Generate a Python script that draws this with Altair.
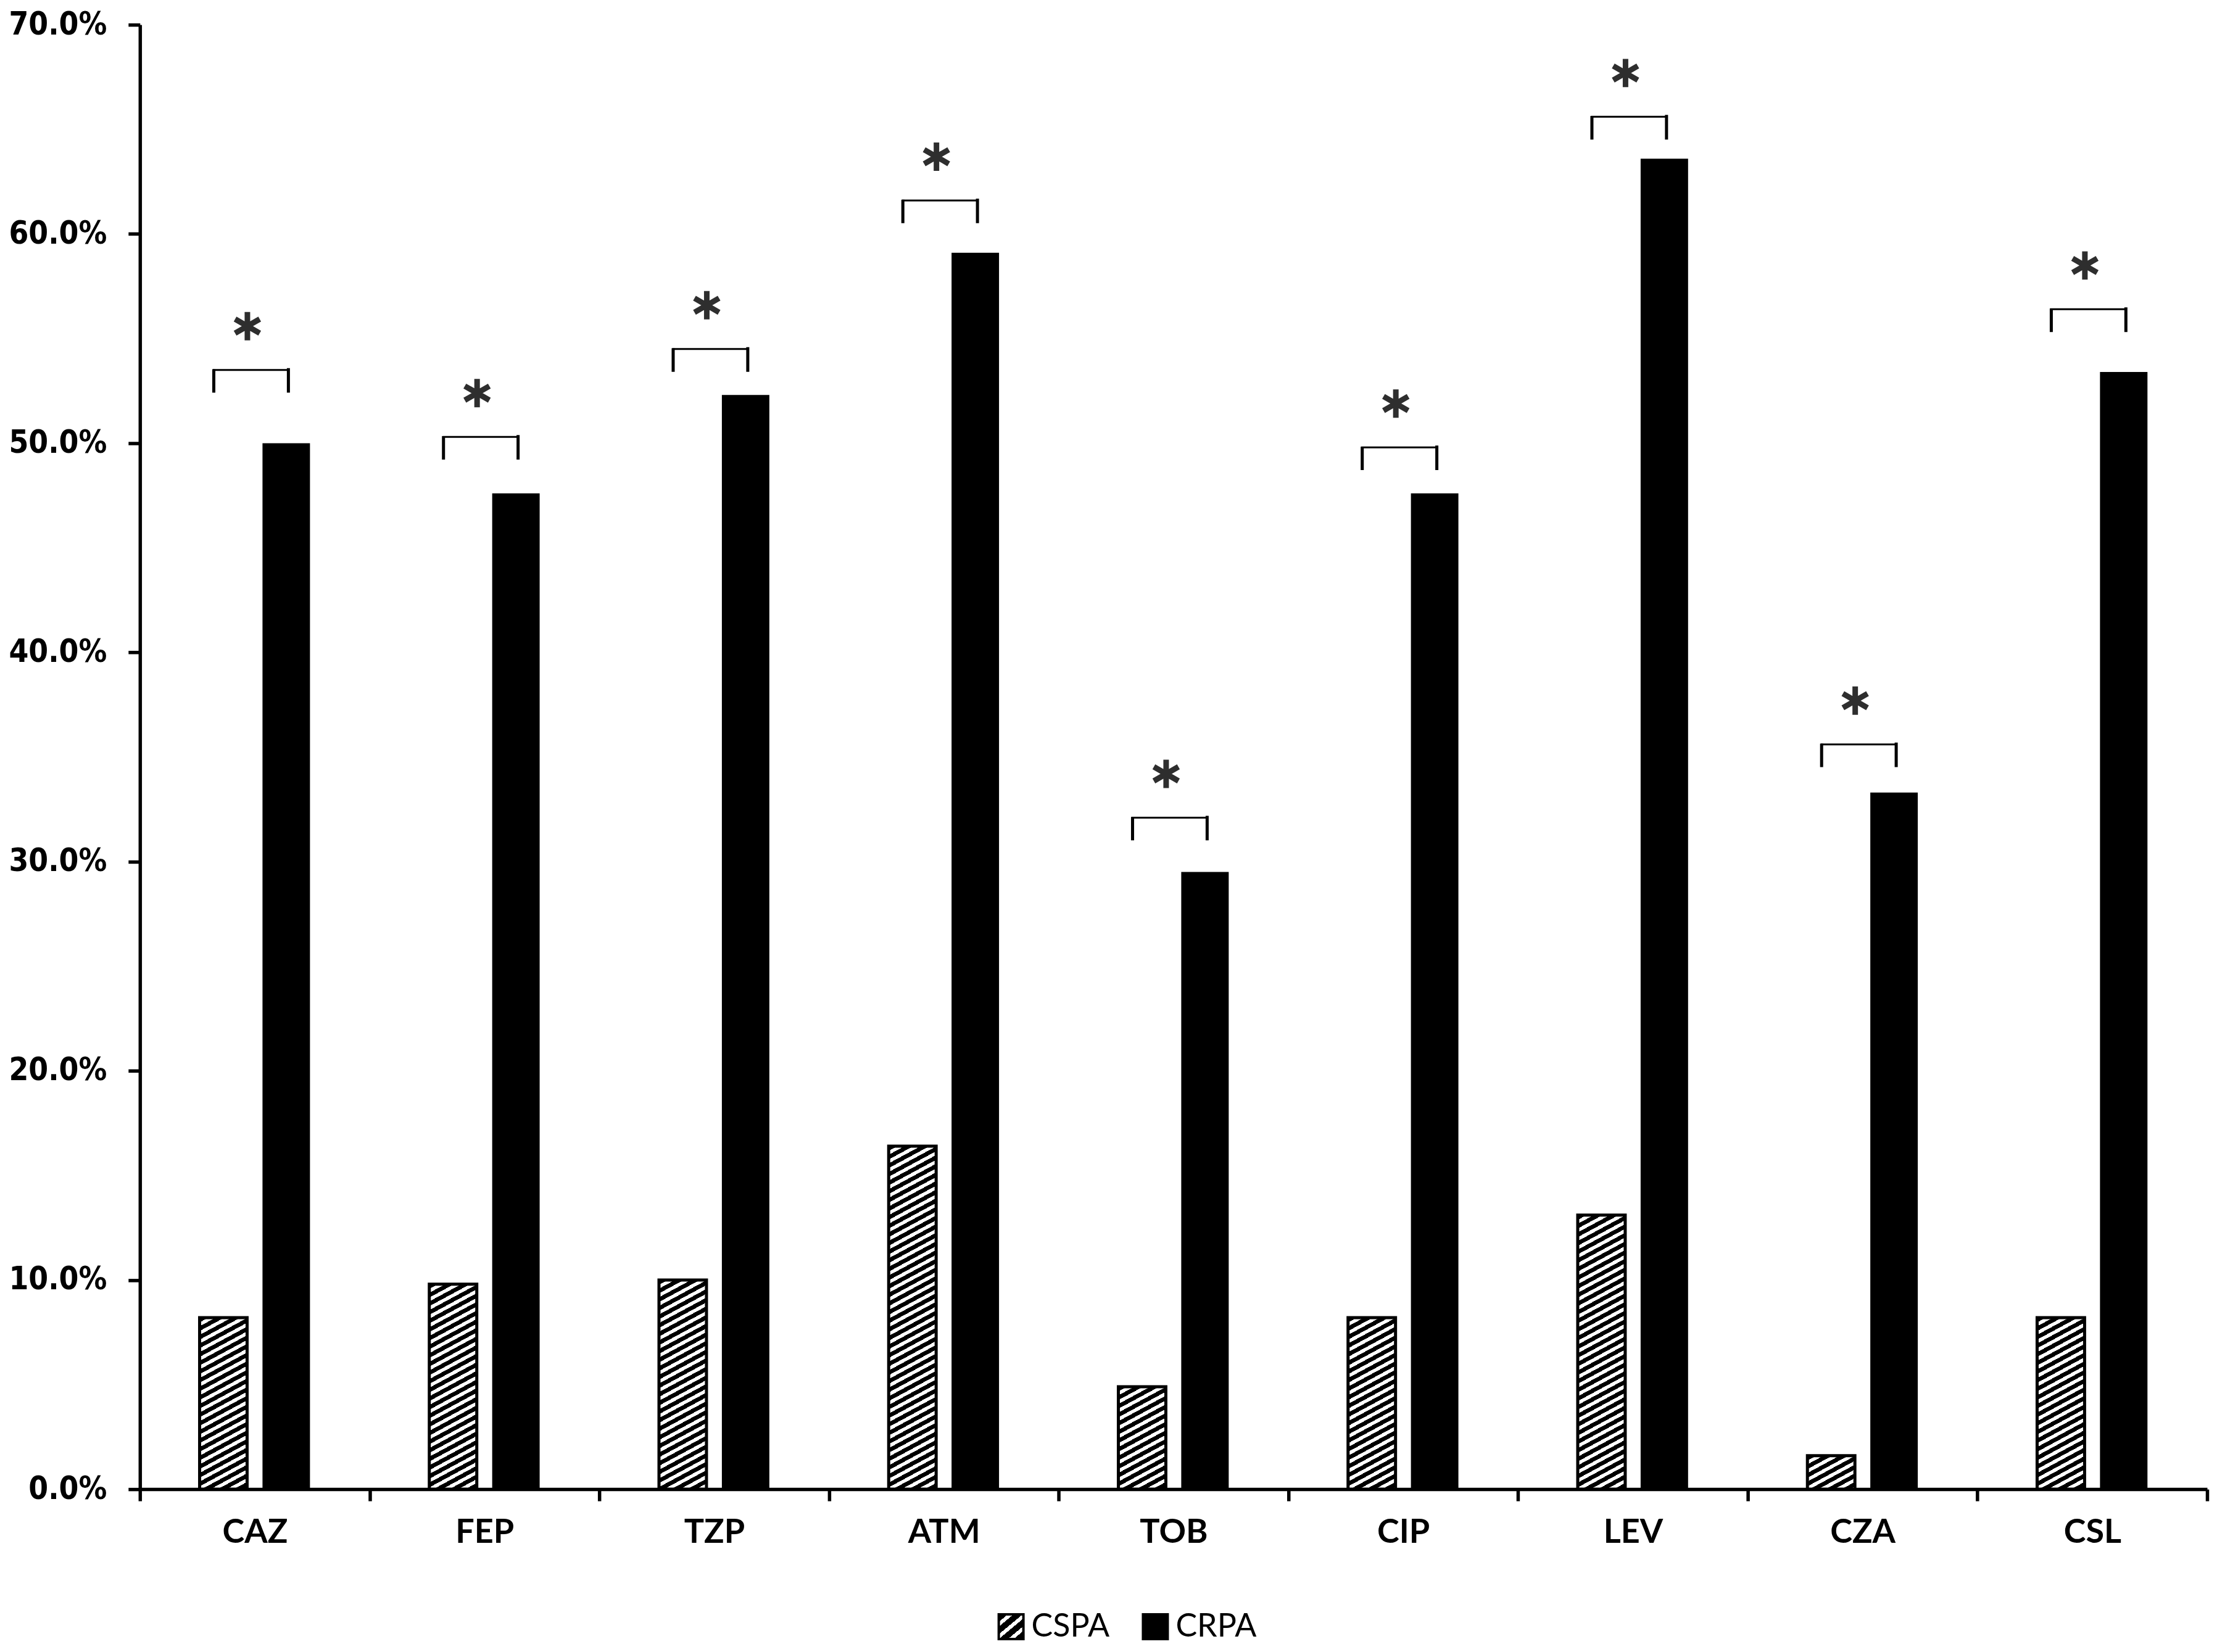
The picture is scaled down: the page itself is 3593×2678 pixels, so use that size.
import altair as alt
import pandas as pd

# ---- data ----
drugs = ["CAZ", "FEP", "TZP", "ATM", "TOB", "CIP", "LEV", "CZA", "CSL"]
groups = ["CSPA", "CRPA"]
cspa_pct = [8.2, 9.8, 10.0, 16.4, 4.9, 8.2, 13.1, 1.6, 8.2]
crpa_pct = [50.0, 47.6, 52.3, 59.1, 29.5, 47.6, 63.6, 33.3, 53.4]
bracket_pct = [53.5, 50.3, 54.5, 61.6, 32.1, 49.8, 65.6, 35.6, 56.4]
y_ticks = [0.0, 0.1, 0.2, 0.3, 0.4, 0.5, 0.6, 0.7]

# ---- layout ----
W, H = 3353, 2376
YMAX = 0.7
SUB_BW = 77.0  # width of one bar in px (band scale result)

bars = pd.DataFrame({
    "drug": drugs * 2,
    "group": ["CSPA"] * len(drugs) + ["CRPA"] * len(drugs),
    "value": [v / 100 for v in cspa_pct + crpa_pct],
})
marks_df = pd.DataFrame({"drug": drugs, "bracket": [b / 100 for b in bracket_pct]})


def hatch(w, h, px=26.0, py=14.0, black=0.55):
    """Diagonal black/white stripes as a hard-stop linear gradient (bbox units)."""
    r = (w * py) / (h * px)
    dy = (r + 1) / (r * r + 1)
    dx = r * dy
    n = w / px + h / py
    stops = [{"offset": 0, "color": "black"}]
    k = 0
    while True:
        a = (k + black) / n
        if a >= 1:
            stops.append({"offset": 1, "color": "black"})
            break
        stops += [{"offset": round(a, 5), "color": "black"}, {"offset": round(a, 5), "color": "white"}]
        b = (k + 1) / n
        if b >= 1:
            stops.append({"offset": 1, "color": "white"})
            break
        stops += [{"offset": round(b, 5), "color": "white"}, {"offset": round(b, 5), "color": "black"}]
        k += 1
    return {"gradient": "linear", "stops": stops, "x1": 0, "y1": 0,
            "x2": round(dx, 5), "y2": round(dy, 5)}


def grad_expr(g):
    stops = ", ".join("{offset: %s, color: '%s'}" % (s["offset"], s["color"]) for s in g["stops"])
    return "{gradient: 'linear', x1: %s, y1: %s, x2: %s, y2: %s, stops: [%s]}" % (
        g["x1"], g["y1"], g["x2"], g["y2"], stops)


y_scale = alt.Scale(domain=[0, YMAX], nice=False, zero=True)
y_axis = alt.Axis(values=y_ticks, format=".1%", grid=False, title=None,
                  labelFont="DejaVu Sans Condensed, DejaVu Sans", labelFontWeight="bold",
                  labelFontSize=51, labelColor="black", labelPadding=35,
                  tickSize=19, tickWidth=5.5, tickColor="black",
                  domainColor="black", domainWidth=5.5)
x_enc = alt.X("drug:N", sort=drugs, title=None,
              scale=alt.Scale(domain=drugs, paddingInner=0, paddingOuter=0),
              axis=alt.Axis(labelAngle=0, labelFont="Lato", labelFontWeight="bold",
                            labelFontSize=54, labelColor="black", labelPadding=24,
                            tickBand="extent", tickSize=19, tickWidth=5.5, tickColor="black",
                            domainColor="black", domainWidth=5.5, grid=False))
xo_enc = alt.XOffset("group:N", scale=alt.Scale(domain=groups, paddingInner=0.245, paddingOuter=0.949))
y_enc = alt.Y("value:Q", scale=y_scale, axis=y_axis, title=None)

legend = alt.Legend(
    title=None, orient="none", legendX=1387, legendY=2573, direction="horizontal",
    symbolType="square", symbolSize=1600, symbolStrokeWidth=4, symbolStrokeColor="black",
    labelFont="Lato", labelFontSize=52, labelColor="black", labelOffset=7,
    columnPadding=46, padding=0, symbolOpacity=1,
)

base = alt.Chart(bars)

crpa_layer = base.transform_filter("datum.group === 'CRPA'").mark_bar(strokeWidth=0, opacity=1).encode(
    x=x_enc, xOffset=xo_enc, y=y_enc,
    color=alt.Color("group:N",
                    scale=alt.Scale(domain=groups,
                                    range=[alt.ExprRef(grad_expr(hatch(40, 40, 24, 20, 0.62))), "black"]),
                    legend=legend),
)

cspa_layers = []
for d, v in zip(drugs, cspa_pct):
    h = v / 100 / YMAX * H
    cspa_layers.append(
        base.transform_filter(f"datum.group === 'CSPA' && datum.drug === '{d}'")
        .mark_bar(fill=hatch(SUB_BW, h), stroke="black", strokeWidth=5)
        .encode(x=x_enc, xOffset=xo_enc, y=y_enc)
    )

bracket_y = alt.Y("bracket:Q", scale=y_scale, axis=y_axis, title=None)

bracket_top = alt.Chart(marks_df).mark_point(
    shape="M-1,0L1,0", size=121 ** 2, filled=False, color="black",
    strokeWidth=3, opacity=1, xOffset=-6, strokeCap="square",
).encode(x=x_enc, y=bracket_y)

bracket_legs = alt.Chart(marks_df).mark_point(
    shape="M-1,-0.02L-1,0.61M1,-0.05L1,0.61", size=121 ** 2, filled=False, color="black",
    strokeWidth=5, opacity=1, xOffset=-6, strokeCap="butt",
).encode(x=x_enc, y=bracket_y)

star_layer = alt.Chart(marks_df).mark_point(
    shape="M0,-1L0,1M-0.866,-0.5L0.866,0.5M-0.866,0.5L0.866,-0.5", size=46 ** 2,
    filled=False, color="#2e2e2e", strokeWidth=9, opacity=1, xOffset=-12, yOffset=-71,
    strokeCap="butt",
).encode(x=x_enc, y=bracket_y)

chart = alt.layer(crpa_layer, *cspa_layers, bracket_top, bracket_legs, star_layer).properties(
    width=W, height=H, background="white",
    padding={"left": 5, "top": 5, "right": 5, "bottom": 5},
).configure_view(stroke=None)

chart.save("out.html", embed_options={"renderer": "svg", "actions": False})
